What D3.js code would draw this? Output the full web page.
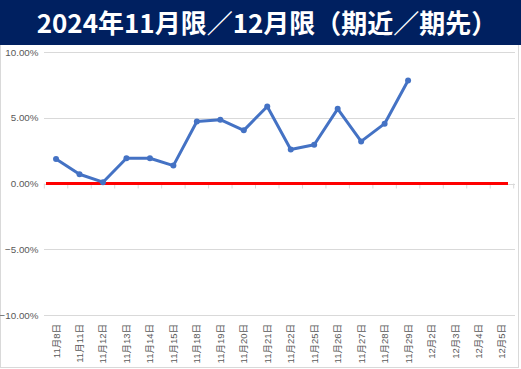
<!DOCTYPE html>
<html><head><meta charset="utf-8">
<script src="https://cdn.jsdelivr.net/npm/d3@7/dist/d3.min.js"></script>
<style>body{margin:0;background:#fff}svg{display:block}</style>
</head><body>
<svg id="c" width="521" height="369"></svg>
<script>
const title = "2024年11月限／12月限（期近／期先）";
const categories = ["11月8日","11月11日","11月12日","11月13日","11月14日","11月15日","11月18日","11月19日","11月20日","11月21日","11月22日","11月25日","11月26日","11月27日","11月28日","11月29日","12月2日","12月3日","12月4日","12月5日"];
const spreadValues = [1.87,0.70,0.10,1.92,1.92,1.36,4.72,4.85,4.04,5.86,2.58,2.95,5.68,3.20,4.55,7.83,null,null,null,null];
const yTicks = [10,5,0,-5,-10];

const svg = d3.select("#c");
const W=521,H=369;
svg.append("rect").attr("x",0.5).attr("y",0.5).attr("width",518).attr("height",367).attr("fill","#fff").attr("stroke","#d9d9d9");
svg.append("rect").attr("x",0).attr("y",0).attr("width",W).attr("height",45).attr("fill","#002060");
svg.append("text").attr("x",267).attr("y",33).attr("text-anchor","middle")
  .attr("fill","#fff").attr("font-family","'Noto Sans CJK JP',sans-serif").attr("font-weight","bold")
  .attr("font-size",26).text(title);

const x = d3.scaleBand().domain(categories).range([44.3,513.7]);
const y = d3.scaleLinear().domain([-10,10]).range([315,52]);
const cx = d=>x(d)+x.bandwidth()/2;

// gridlines
svg.append("g").selectAll("line").data(yTicks).join("line")
  .attr("x1",44).attr("x2",515).attr("y1",d=>Math.round(y(d))+0.5).attr("y2",d=>Math.round(y(d))+0.5)
  .attr("stroke","#d9d9d9").attr("stroke-width",1);
// y labels
const yAxis = d3.axisLeft(y).tickValues(yTicks).tickSize(0).tickPadding(0).tickFormat(d=>d3.format(".2f")(d)+"%");
const ga = svg.append("g").attr("transform","translate(38.5,0)").call(yAxis);
ga.select(".domain").remove();
ga.selectAll("text").attr("font-family","'Liberation Sans',Arial,sans-serif").attr("font-size",9.8).attr("fill","#595959");

// category ticks at zero
const bounds = categories.map(c=>x(c)).concat([x.range()[1]]);
svg.append("g").selectAll("line").data(bounds).join("line")
  .attr("x1",d=>d).attr("x2",d=>d).attr("y1",y(0)).attr("y2",y(0)+5).attr("stroke","#d9d9d9");

// x labels
svg.append("g").selectAll("text").data(categories).join("text")
  .attr("transform",d=>`translate(${cx(d)+3.5},324) rotate(-90)`)
  .attr("text-anchor","end").attr("font-family","'Liberation Sans',Arial,'Noto Sans CJK JP',sans-serif")
  .attr("font-size",9.5).attr("fill","#595959").text(d=>d);

// zero red line
svg.append("line").attr("x1",46).attr("x2",508).attr("y1",y(0)).attr("y2",y(0))
  .attr("stroke","#ff0000").attr("stroke-width",3);

// series
const pts = categories.map((c,i)=>({c,v:spreadValues[i]})).filter(d=>d.v!==null);
svg.append("path").datum(pts).attr("fill","none").attr("stroke","#4472c4").attr("stroke-width",3)
  .attr("stroke-linejoin","round")
  .attr("d",d3.line().x(d=>cx(d.c)).y(d=>y(d.v)));
svg.append("g").selectAll("circle").data(pts).join("circle")
  .attr("cx",d=>cx(d.c)).attr("cy",d=>y(d.v)).attr("r",3).attr("fill","#4472c4");
</script>
</body></html>
